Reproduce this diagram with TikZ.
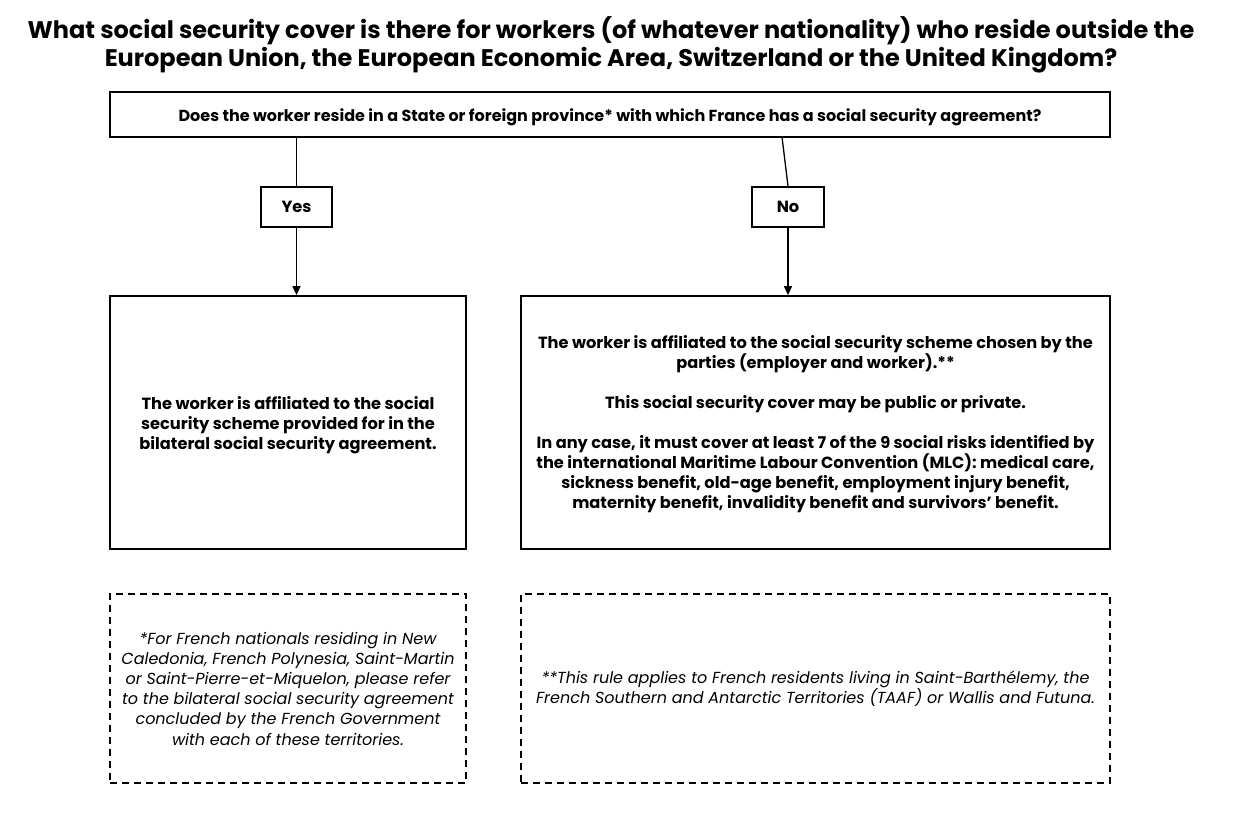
\documentclass[tikz,border=0pt]{standalone}
\usepackage{fontspec}
\setmainfont{Poppins}
\usetikzlibrary{arrows.meta}
\begin{document}
\begin{tikzpicture}[x=1pt,y=-1pt,
  box/.style={draw, line width=1.8pt, align=center, inner sep=0pt},
  dbox/.style={draw, line width=1.6pt, dash pattern=on 7pt off 5pt, align=center, inner sep=0pt},
  btxt/.style={font=\bfseries\fontsize{16.2}{20}\selectfont},
  itxt/.style={font=\itshape\fontsize{16}{20.2}\selectfont},
  conn/.style={line width=1.3pt},
  arr/.style={conn, -{Triangle[length=9pt,width=8pt]}}]
\useasboundingbox (0,0) rectangle (1233,816);
\node[font=\bfseries\fontsize{24}{28}\selectfont, align=center] (title) at (611,45)
  {What social security cover is there for workers (of whatever nationality) who reside outside the\\European Union, the European Economic Area, Switzerland or the United Kingdom?};
\node[box, minimum width=1000pt, minimum height=45pt] (q) at (610,114.5) {};
\node[font=\bfseries\fontsize{16}{20}\selectfont] (qt) at (610,117)
  {Does the worker reside in a State or foreign province* with which France has a social security agreement?};
\node[box, btxt, minimum width=71pt, minimum height=40pt] (yes) at (296.5,207) {Yes};
\node[box, btxt, minimum width=72pt, minimum height=40pt] (no) at (788,207) {No};
\node[box, btxt, minimum width=356pt, minimum height=253pt] (left) at (288,422.5) {};
\node[btxt, align=center] (lt) at (288,425)
  {The worker is affiliated to the social\\security scheme provided for in the\\bilateral social security agreement.};
\node[box, btxt, minimum width=589pt, minimum height=253pt] (right) at (815.5,422.5) {};
\node[btxt, align=center] (rt) at (815.5,424.5)
  {The worker is affiliated to the social security scheme chosen by the\\parties (employer and worker).**\\[20pt]This social security cover may be public or private.\\[20pt]In any case, it must cover at least 7 of the 9 social risks identified by\\the international Maritime Labour Convention (MLC): medical care,\\sickness benefit, old-age benefit, employment injury benefit,\\maternity benefit, invalidity benefit and survivors' benefit.};
\node[dbox, itxt, minimum width=356pt, minimum height=189pt] (fl) at (288,688.5)
  {*For French nationals residing in New\\Caledonia, French Polynesia, Saint-Martin\\or Saint-Pierre-et-Miquelon, please refer\\to the bilateral social security agreement\\concluded by the French Government\\with each of these territories.};
\node[dbox, itxt, minimum width=589pt, minimum height=189pt] (fr) at (815.5,688.5)
  {**This rule applies to French residents living in Saint-Barthélemy, the\\French Southern and Antarctic Territories (TAAF) or Wallis and Futuna.};
\coordinate (nt) at (782,137);
\draw[conn] (yes.north |- q.south) -- (yes.north);
\draw[arr] (yes.south) -- (yes.south |- left.north);
\draw[conn] (nt) -- (no.north);
\draw[arr] (no.south) -- (no.south |- right.north);
\end{tikzpicture}
\end{document}
